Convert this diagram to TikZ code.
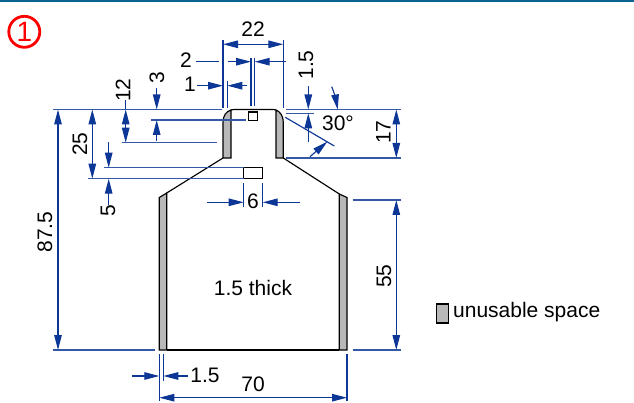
\documentclass[tikz,border=0pt]{standalone}
\usepackage{fontspec}
\setmainfont{Liberation Sans}
\usetikzlibrary{arrows.meta}
\definecolor{dimblue}{HTML}{0C3797}
\definecolor{extblue}{HTML}{3558A6}
\definecolor{topbar}{HTML}{0A648F}
\definecolor{unusable}{HTML}{B8B8B8}
\tikzset{
  x=1pt,y=-1pt,
  dim/.style={draw=dimblue,line width=1.15pt},
  ext/.style={draw=extblue,line width=1.15pt},
  arr/.style={dim,-{Triangle[length=15pt,width=7.5pt]}},
  twoarr/.style={dim,{Triangle[length=15pt,width=7.5pt]}-{Triangle[length=15pt,width=7.5pt]}},
  lab/.style={font=\fontsize{21}{23}\selectfont,text=black,inner sep=0pt},
  vlab/.style={lab,rotate=90},
  body/.style={draw=black,line width=1.15pt},
  strip/.style={draw=black,line width=1.15pt,fill=unusable},
}
\begin{document}
\begin{tikzpicture}
\useasboundingbox (0,0) rectangle (634,403);
\fill[topbar] (0,0) rectangle (634,2.5);
\node[draw=red,line width=2.8pt,circle,minimum size=31pt,inner sep=0pt,text=red,font=\fontsize{28}{30}\selectfont] (badge) at (24.3,31.8) {1};

% part outline
\draw[strip] (223,158) -- (223,122) .. controls (223,116) and (226,111.5) .. (231,110) -- (231,158) -- cycle;
\draw[strip] (283.3,158) -- (283.3,122) .. controls (283.3,116) and (280,111.5) .. (276,110) -- (276,158) -- cycle;
\draw[strip] (159.3,350) -- (159.3,197.5) -- (166.7,193) -- (166.7,350) -- cycle;
\draw[strip] (347,350) -- (347,197.5) -- (339.3,194) -- (339.3,350) -- cycle;
\draw[body] (223,158) -- (166.7,193);
\draw[body] (283.3,158) -- (339.3,194);
\draw[body] (166.7,350) -- (339.3,350);
\draw[body] (231,110) .. controls (232,109.7) and (233,109.5) .. (234,109.5) -- (272,109.5) .. controls (273.5,109.5) and (275,109.7) .. (276,110);
\node[draw=black,line width=1.15pt,fill=white,minimum width=9.4pt,minimum height=8.4pt,inner sep=0pt] (slotA) at (253,116.2) {};
\node[draw=black,line width=1.15pt,fill=white,minimum width=19pt,minimum height=11pt,inner sep=0pt] (slotB) at (253,173.2) {};

% extension lines
\draw[ext] (53,109.5) -- (222,109.5);
\draw[ext] (286,109.5) -- (401,109.5);
\draw[ext] (286,113.3) -- (313.5,113.3);
\draw[ext] (286,158) -- (401,158);
\draw[ext] (151,120) -- (245.7,120);
\draw[ext] (122.3,142.7) -- (217.3,142.7);
\draw[ext] (104.3,167.7) -- (243.7,167.7);
\draw[ext] (88.3,178.7) -- (243.5,178.7);
\draw[ext] (53,350) -- (155,350);
\draw[ext] (352.7,200) -- (400.7,200);
\draw[ext] (352.7,350) -- (400.7,350);
\draw[dim] (223,40) -- (223,108);
\draw[dim] (283.3,40) -- (283.3,108);
\draw[dim] (227.3,81) -- (227.3,108);
\draw[dim] (251,58) -- (251,106);
\draw[dim] (254.7,58) -- (254.7,106);
\draw[dim] (243.7,183) -- (243.7,206.7);
\draw[dim] (262.7,183) -- (262.7,206.7);
\draw[dim] (159.3,354) -- (159.3,401);
\draw[dim] (163.3,354) -- (163.3,381);
\draw[dim] (347,354) -- (347,401);

% horizontal dimensions
\draw[twoarr] (223,44.3) -- (283.3,44.3);
\draw[dim] (196,61.7) -- (218.7,61.7);
\draw[arr] (227.7,61.7) -- (251,61.7);
\draw[arr] (285.7,61.7) -- (254.7,61.7);
\draw[arr] (197.3,85.7) -- (223,85.7);
\draw[arr] (247,85.7) -- (227.3,85.7);
\draw[arr] (206.7,202.3) -- (243.7,202.3);
\draw[arr] (300,202.3) -- (262.7,202.3);
\draw[arr] (132.3,376) -- (159.3,376);
\draw[arr] (188,376) -- (163.3,376);
\draw[twoarr] (159.3,397.7) -- (347,397.7);

% vertical dimensions
\draw[twoarr] (58,109.5) -- (58,350);
\draw[twoarr] (92.3,109.5) -- (92.3,178.7);
\draw[twoarr] (125.7,109.5) -- (125.7,142.7);
\draw[dim] (125.7,100) -- (125.7,109.5);
\draw[arr] (156.7,88) -- (156.7,109.5);
\draw[arr] (156.7,140.7) -- (156.7,120);
\draw[arr] (108.7,142.3) -- (108.7,167.7);
\draw[arr] (108.7,205) -- (108.7,178.7);
\draw[arr] (308.3,86) -- (308.3,109.5);
\draw[arr] (308.3,141.7) -- (308.3,113.3);
\draw[twoarr] (396.3,109.5) -- (396.3,158);
\draw[twoarr] (396.3,200) -- (396.3,350);

% angle
\draw[dim] (285.3,117.3) -- (334.3,146);
\draw[arr] (331.7,86.7) .. controls (334,92) and (336,100) .. (337.7,109.5);
\draw[arr] (310,156.7) -- (327.3,141.7);

% labels
\node[lab] (l22) at (253,29) {22};
\node[lab] (l2) at (186,60.5) {2};
\node[lab] (l1) at (190,84) {1};
\node[vlab] (l15a) at (306,65) {1.5};
\node[lab] (l30) at (338,123) {30°};
\node[vlab] (l17) at (383.5,132) {17};
\node[vlab] (l3) at (157,78) {3};
\node[vlab] (l12) at (123,90) {12};
\node[vlab] (l25) at (80,144) {25};
\node[vlab] (l5) at (108,211) {5};
\node[vlab] (l875) at (45,232) {87.5};
\node[lab] (l6) at (253,201) {6};
\node[vlab] (l55) at (384,276) {55};
\node[lab] (lthick) at (253,288) {1.5 thick};
\node[lab] (l15b) at (205,375) {1.5};
\node[lab] (l70) at (253,384) {70};
\node[strip,minimum width=12pt,minimum height=19pt,inner sep=0pt] (legend) at (442.2,313.5) {};
\node[lab,anchor=west] (ltext) at (453,312) {unusable space};
\end{tikzpicture}
\end{document}
